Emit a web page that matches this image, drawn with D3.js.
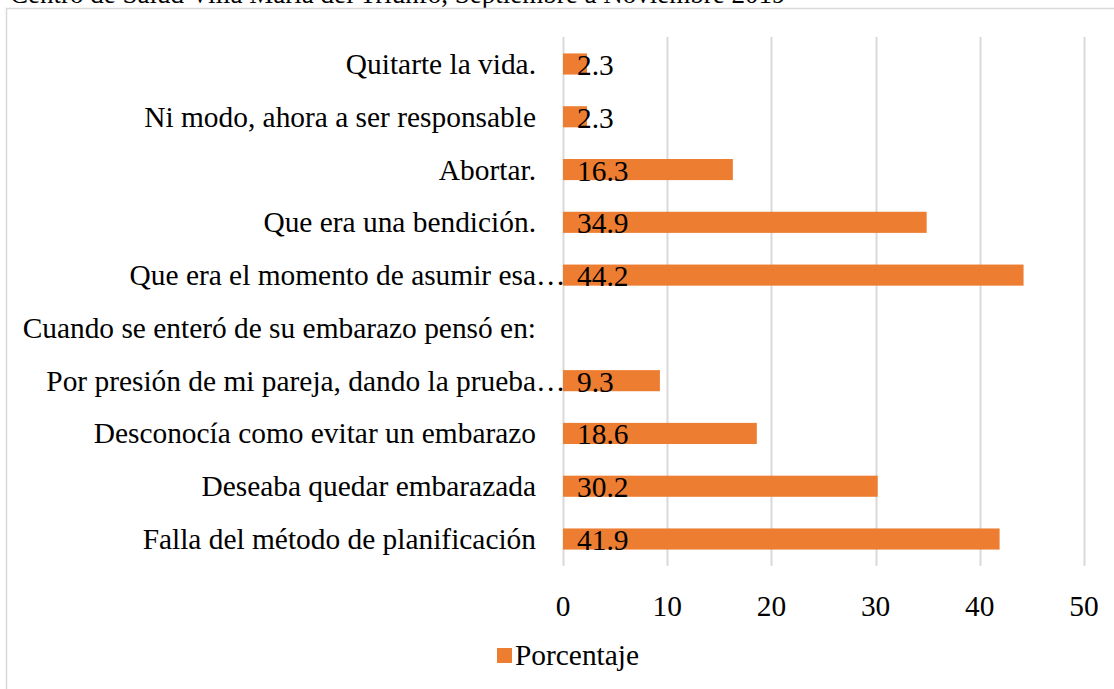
<!DOCTYPE html>
<html>
<head>
<meta charset="utf-8">
<script src="https://cdn.jsdelivr.net/npm/d3@7"></script>
<style>
  body { margin: 0; background: #fff; }
  text { font-family: "Liberation Serif", "Times New Roman", serif; fill: #000; }
</style>
</head>
<body>
<div id="chart"></div>
<script>
// data, bottom to top as in the picture
const categories = [
  "Falla del método de planificación",
  "Deseaba quedar embarazada",
  "Desconocía como evitar un embarazo",
  "Por presión de mi pareja, dando la prueba…",
  "Cuando se enteró de su embarazo pensó en:",
  "Que era el momento de asumir esa…",
  "Que era una bendición.",
  "Abortar.",
  "Ni modo, ahora a ser responsable",
  "Quitarte la vida."
];
const values = [41.9, 30.2, 18.6, 9.3, null, 44.2, 34.9, 16.3, 2.3, 2.3];
const ticks = [0, 10, 20, 30, 40, 50];
const seriesName = "Porcentaje";
const title = "Centro de Salud Villa María del Triunfo, Septiembre a Noviembre 2019";

const width = 1114, height = 689;
const fontSize = 29.4;
const orange = "#ED7D31";

const svg = d3.select("#chart").append("svg")
  .attr("width", width)
  .attr("height", height);

// title line, cropped by the top edge as in the source picture
svg.append("text")
  .attr("x", 10)
  .attr("y", 3)
  .style("font-size", "27px")
  .text(title);

// chart frame
svg.append("rect")
  .attr("x", 6.5).attr("y", 8.5)
  .attr("width", 1130).attr("height", 700)
  .attr("fill", "none")
  .attr("stroke", "#d9d9d9")
  .attr("stroke-width", 1.5);

const x = d3.scaleLinear().domain([0, 50]).range([563, 1084]);
const y = d3.scaleBand()
  .domain(categories.slice().reverse())
  .range([37.6, 565.4])
  .paddingInner(0.6)
  .paddingOuter(0.3);

// gridlines
svg.append("g")
  .selectAll("line")
  .data(ticks)
  .join("line")
  .attr("x1", d => Math.round(x(d)) + 0.5)
  .attr("x2", d => Math.round(x(d)) + 0.5)
  .attr("y1", 37)
  .attr("y2", 566)
  .attr("stroke", "#d9d9d9")
  .attr("stroke-width", 2);

// tick labels
svg.append("g")
  .selectAll("text")
  .data(ticks)
  .join("text")
  .attr("x", d => x(d))
  .attr("y", 616)
  .attr("text-anchor", "middle")
  .style("font-size", fontSize + "px")
  .text(d => d);

const rows = categories.map((c, i) => ({ cat: c, val: values[i] }));

// bars
svg.append("g")
  .selectAll("rect")
  .data(rows.filter(d => d.val != null))
  .join("rect")
  .attr("x", x(0))
  .attr("y", d => y(d.cat))
  .attr("width", d => x(d.val) - x(0))
  .attr("height", y.bandwidth())
  .attr("fill", orange);

// value labels (inside base)
svg.append("g")
  .selectAll("text")
  .data(rows.filter(d => d.val != null))
  .join("text")
  .attr("x", x(0) + 14)
  .attr("y", d => y(d.cat) + y.bandwidth() / 2 + 11)
  .style("font-size", fontSize + "px")
  .text(d => d.val.toFixed(1));

// category labels, truncated ones hang their ellipsis past the label box
const labelRight = 536;
const cats = svg.append("g")
  .selectAll("g")
  .data(rows)
  .join("g")
  .attr("transform", d => `translate(0, ${y(d.cat) + y.bandwidth() / 2 + 10})`);

cats.append("text")
  .attr("x", labelRight)
  .attr("text-anchor", "end")
  .style("font-size", fontSize + "px")
  .text(d => d.cat.replace("…", ""));

cats.filter(d => d.cat.endsWith("…"))
  .append("text")
  .attr("x", labelRight)
  .style("font-size", fontSize + "px")
  .text("…");

// legend
const legend = svg.append("g").attr("transform", "translate(497, 648)");
legend.append("rect")
  .attr("width", 15).attr("height", 15)
  .attr("fill", orange);
legend.append("text")
  .attr("x", 18)
  .attr("y", 17)
  .style("font-size", fontSize + "px")
  .text(seriesName);
</script>
</body>
</html>
